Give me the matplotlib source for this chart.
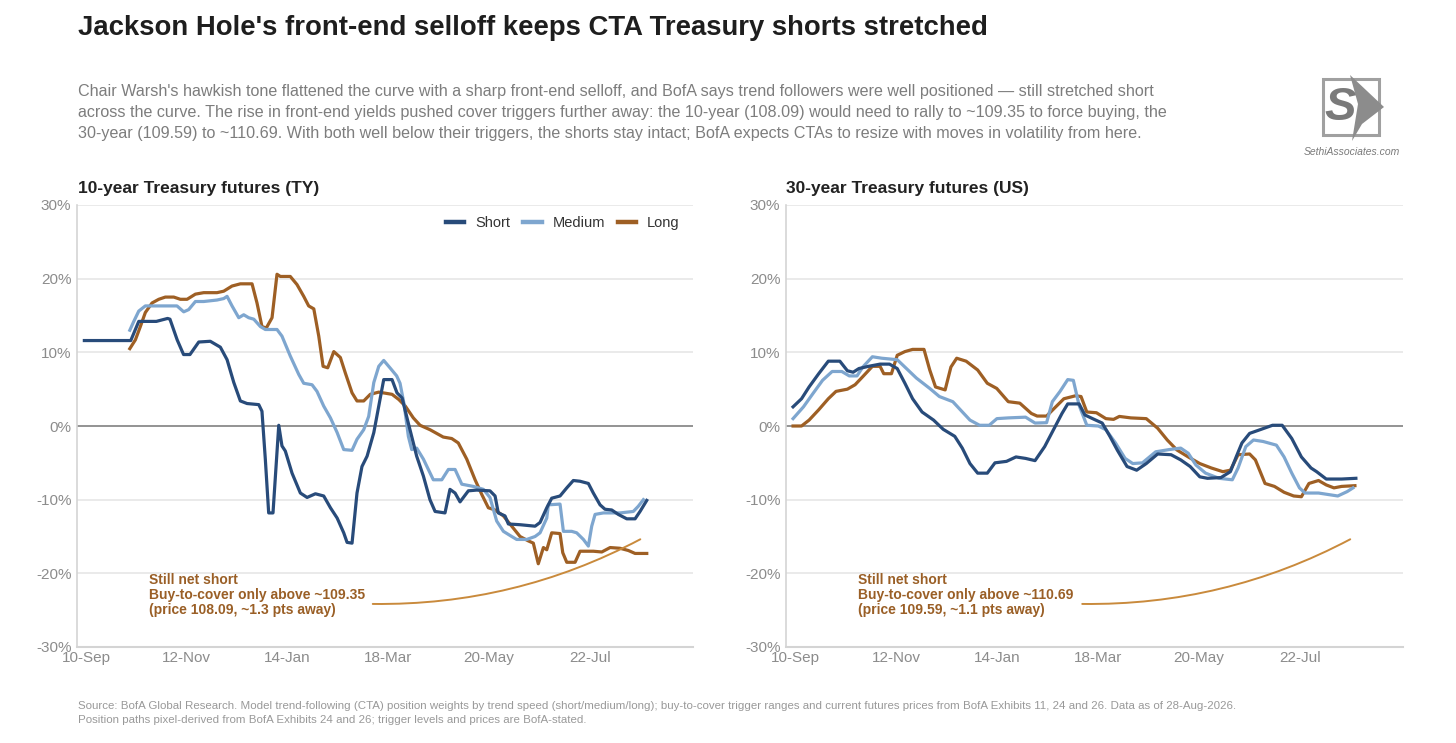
import numpy as np
import matplotlib.pyplot as plt
from matplotlib.patches import FancyArrowPatch, Polygon, Rectangle

plt.rcParams['font.family'] = ['Liberation Sans', 'DejaVu Sans']

# x = days since 10-Sep-2025, y = position weight (%)
tick_days = [0, 63, 126, 189, 252, 315]
tick_labels = ['10-Sep', '12-Nov', '14-Jan', '18-Mar', '20-May', '22-Jul']

# ---- 10-year (TY)
ty_short_x = [-1, 28, 33, 44, 51, 52.5, 57, 61, 65, 70.5, 77.7, 84, 88.2, 92.4, 96.5, 100.7, 108, 110,
              112.1, 114.2, 116.9, 120.5, 122.5, 124.6, 128.8, 134, 138.2, 143.4, 148.6, 152.8, 157,
              161.1, 163.2, 166.3, 169.4, 172.5, 175.7, 179.9, 183, 186.1, 191.3, 194.4, 197.6, 201,
              206.7, 210.9, 215, 218.2, 224.4, 227.5, 230.7, 233.8, 239, 244.2, 252.5, 255.7, 257.7,
              261.9, 264, 271.3, 280.7, 283.8, 288, 291.1, 296.3, 300.5, 304.6, 308.8, 314, 317.1,
              321.3, 324.4, 328.6, 332.7, 338, 343.2, 346.3, 350.5]
ty_short_y = [11.6, 11.6, 14.2, 14.2, 14.6, 14.5, 11.7, 9.7, 9.7, 11.4, 11.5, 10.7, 9.0, 5.9, 3.4, 3.05,
              2.9, 2.0, -4.5, -11.8, -11.8, 0.1, -2.7, -3.4, -6.4, -9.1, -9.7, -9.2, -9.5, -11.1,
              -12.5, -14.5, -15.8, -15.9, -9.1, -5.5, -4.1, -0.9, 2.7, 6.3, 6.3, 4.5, 3.8, 0.8, -4.1,
              -6.8, -10.0, -11.6, -11.8, -8.6, -9.1, -10.3, -8.8, -8.7, -8.8, -9.5, -11.8, -12.2,
              -13.3, -13.4, -13.6, -13.1, -11.1, -9.8, -9.5, -8.4, -7.4, -7.5, -7.8, -9.1, -10.7,
              -11.3, -11.4, -12.0, -12.6, -12.6, -11.6, -10.1]

ty_medium_x = [27.4, 29.9, 33, 37.1, 56.9, 61.1, 64.2, 68.4, 73.6, 81.9, 86.1, 88.2, 91.3, 95.5, 98.6,
               101.7, 104.9, 109, 112.1, 119.4, 122.5, 127.7, 133, 136.1, 141.3, 144.4, 148.6, 152.8,
               157, 161.1, 166.3, 169.4, 173.6, 176.7, 179.9, 183, 186.1, 190, 194.2, 196.3, 198.8,
               201.5, 203.6, 206.7, 210.9, 217.1, 222.4, 226.5, 230.7, 234.9, 242.1, 248.4, 252.5,
               256.7, 260.9, 266.1, 269.2, 275.5, 280.7, 283.8, 288, 289, 296.3, 298.4, 303.6, 306.7,
               310.9, 314, 316.1, 318.2, 323.4, 333.8, 342.1, 345.2, 348.4]
ty_medium_y = [13.0, 14.2, 15.6, 16.3, 16.3, 15.5, 15.8, 16.9, 16.9, 17.1, 17.3, 17.6, 16.3, 14.7, 15.1,
               14.7, 14.5, 13.5, 13.1, 13.1, 12.2, 9.5, 7.0, 5.8, 5.6, 4.7, 2.7, 1.1, -0.9, -3.2, -3.3,
               -1.8, -0.5, 1.3, 5.9, 8.1, 8.9, 7.9, 6.8, 5.8, 3.0, -1.4, -3.2, -3.0, -4.5, -7.3, -7.3,
               -5.9, -5.9, -7.9, -8.2, -8.6, -9.7, -12.9, -14.3, -15.0, -15.4, -15.4, -15.0, -14.5,
               -12.5, -10.7, -10.6, -14.3, -14.3, -14.5, -15.4, -16.3, -13.6, -12.0, -11.8, -11.8,
               -11.6, -10.9, -10.0]

ty_long_x = [27.4, 30.9, 34, 37.1, 41.3, 45.5, 49.6, 54.9, 59, 63.2, 68.4, 73.6, 81.9, 86.1, 91.3, 96.5,
             103.8, 106.9, 110, 112.7, 116.3, 119.4, 121.5, 127.7, 131.9, 136.1, 139.2, 142.4, 145.5,
             148.2, 151.1, 154.9, 159, 162.1, 166.3, 169.4, 173.6, 177.7, 183, 191.3, 195.5, 199.6,
             204.6, 208.8, 215, 223.3, 228.6, 232.7, 238, 243.2, 247.4, 251.5, 255.7, 260.9, 266.1,
             271.3, 276.5, 279.6, 282.7, 285.9, 288, 291.1, 296.3, 298, 300.5, 305.7, 308.8, 317.1,
             322.4, 327.6, 333.8, 339, 343.2, 350.5]
ty_long_y = [10.5, 11.7, 13.5, 15.4, 16.7, 17.2, 17.5, 17.5, 17.2, 17.2, 17.9, 18.1, 18.1, 18.3, 19.0,
             19.3, 19.3, 16.7, 13.5, 13.3, 14.7, 20.6, 20.3, 20.3, 19.2, 17.6, 16.3, 15.9, 12.2, 8.1,
             7.9, 10.1, 9.3, 7.2, 4.5, 3.4, 3.4, 4.3, 4.6, 4.3, 3.6, 2.7, 1.1, 0.1, -0.5, -1.5, -1.7,
             -2.3, -4.5, -7.3, -9.3, -11.1, -11.4, -12.2, -13.6, -15.0, -15.6, -15.9, -18.7, -16.5,
             -16.8, -14.5, -14.6, -17.2, -18.5, -18.5, -17.0, -17.0, -17.1, -16.5, -16.6, -16.9,
             -17.3, -17.3]

# ---- 30-year (US)
us_short_x = [-1.2, 4.1, 8.8, 14.8, 20.8, 28, 32.7, 36.3, 39.9, 45.9, 53.1, 59, 63.8, 68.6, 73.4, 79.3,
              86.5, 92.5, 99.7, 104.4, 109.2, 114, 120, 124.8, 132, 137.9, 143.9, 149.8, 155.8, 161.8,
              166.6, 170.2, 177.3, 180.9, 185.7, 191.7, 196.5, 201.2, 207.2, 213.2, 219.2, 226.3,
              234.7, 240.7, 246.6, 252.6, 257.4, 265.8, 271.7, 275.3, 278.9, 283.7, 290.9, 298, 304,
              310, 316, 322, 325.5, 331.5, 341.1, 350]
us_short_y = [2.6, 3.7, 5.3, 7.1, 8.8, 8.8, 7.5, 7.3, 7.8, 8.1, 8.4, 8.4, 7.8, 5.8, 3.7, 1.9, 0.8, -0.45,
              -1.4, -3.0, -5.1, -6.4, -6.4, -5.0, -4.8, -4.2, -4.4, -4.7, -2.8, -0.3, 1.7, 3.0, 3.0,
              1.5, 1.0, 0.4, -1.4, -3.3, -5.5, -6.0, -5.1, -3.8, -3.9, -4.6, -5.5, -6.9, -7.1, -7.0,
              -6.2, -4.2, -2.3, -1.0, -0.45, 0.1, 0.1, -1.7, -4.2, -5.7, -6.2, -7.2, -7.2, -7.1]

us_medium_x = [-1.2, 5.3, 11.2, 17.2, 23.2, 29.2, 33.9, 38.7, 42.3, 48.3, 54.2, 63.8, 68.6, 75.8, 84.1,
               90.1, 98.5, 103.2, 109.2, 115.2, 121.2, 126, 133.1, 143.9, 149.8, 157, 160.6, 165.4,
               170.2, 173.7, 177.3, 182.1, 189.3, 194, 200, 206, 210.8, 216.8, 225.1, 233.5, 240.7,
               245.4, 250.2, 256.2, 264.6, 272.9, 276.5, 281.3, 286.1, 292.1, 300.4, 305.2, 310,
               314.8, 318.3, 326.7, 338.7, 344.6, 348.2]
us_medium_y = [1.0, 2.6, 4.4, 6.2, 7.4, 7.4, 6.8, 6.8, 8.0, 9.4, 9.2, 9.0, 8.0, 6.5, 5.1, 4.0, 3.3, 2.2,
               0.8, 0.1, 0.1, 1.0, 1.1, 1.2, 0.4, 0.45, 3.3, 4.7, 6.3, 6.2, 2.8, 0.1, 0.0, -0.5, -2.3,
               -4.4, -5.1, -5.0, -3.5, -3.2, -3.0, -3.7, -5.3, -6.4, -7.1, -7.3, -5.7, -2.8, -1.9,
               -2.1, -2.6, -4.2, -6.4, -8.4, -9.1, -9.1, -9.5, -8.9, -8.4]

us_long_x = [-1.2, 4.1, 8.8, 14.8, 20.8, 25.6, 32.7, 37.5, 42.3, 48.3, 53.1, 55.4, 60.2, 63.8, 68.6,
             73.4, 80.5, 84.1, 87.7, 93.7, 97.3, 100.9, 106.8, 114, 120, 125.9, 133.1, 140.3, 147.5,
             151.1, 157, 161.8, 167.8, 175, 178.5, 182.1, 188.1, 194, 198.8, 202.4, 209.6, 219.2,
             226.3, 232.3, 238.3, 245.4, 252.6, 259.8, 267, 271.7, 276.5, 283.7, 287.3, 293.3, 299.2,
             305.2, 311.2, 316, 320.7, 326.7, 331.5, 336.3, 341.1, 349.4]
us_long_y = [0.0, 0.0, 0.8, 2.2, 3.7, 4.7, 5.0, 5.6, 6.7, 8.1, 8.1, 7.1, 7.1, 9.6, 10.1, 10.4, 10.4, 7.6,
             5.3, 4.9, 8.0, 9.2, 8.8, 7.6, 5.8, 5.1, 3.3, 3.1, 1.7, 1.35, 1.35, 2.4, 3.7, 4.1, 4.0,
             1.9, 1.8, 1.0, 0.9, 1.3, 1.1, 1.0, -0.3, -1.9, -3.25, -4.2, -5.1, -5.7, -6.2, -6.0,
             -3.9, -3.8, -4.6, -7.8, -8.2, -9.0, -9.5, -9.6, -7.8, -7.4, -8.0, -8.4, -8.2, -8.1]

# trigger curve ends (day, %) and annotation texts
curve_start = (177.5, -24.15)
curve_end = (348, -15.2)
ty_note = 'Still net short\nBuy-to-cover only above ~109.35\n(price 108.09, ~1.3 pts away)'
us_note = 'Still net short\nBuy-to-cover only above ~110.69\n(price 109.59, ~1.1 pts away)'

c_short = '#284b7a'
c_medium = '#7ea6cf'
c_long = '#9e5f24'
c_note = '#9a5f26'
c_curve = '#c98a3c'

W, H = 1456, 743
fig = plt.figure(figsize=(W / 100, H / 100), dpi=100)


def fx(px):
    return px / W


def fy(py):
    return 1 - py / H


def style_axes(ax):
    ax.set_xlim(-5.6, 379.4)
    ax.set_ylim(-30, 30)
    ax.set_yticks([-30, -20, -10, 0, 10, 20, 30])
    ax.set_yticklabels(['%d%%' % v for v in [-30, -20, -10, 0, 10, 20, 30]])
    ax.set_xticks(tick_days)
    ax.set_xticklabels(tick_labels)
    for v in [-20, -10, 10, 20, 30]:
        ax.axhline(v, color='#e6e6e6', lw=1.2, zorder=0)
    ax.axhline(0, color='#8a8a8a', lw=1.3, zorder=1)
    for s in ['top', 'right']:
        ax.spines[s].set_visible(False)
    ax.spines['left'].set_color('#d4d4d4')
    ax.spines['bottom'].set_color('#d4d4d4')
    ax.spines['left'].set_linewidth(1.2)
    ax.spines['bottom'].set_linewidth(1.5)
    ax.tick_params(length=0, labelsize=11, labelcolor='#8c8c8c')
    ax.tick_params(axis='y', pad=4)
    ax.tick_params(axis='x', pad=3)


ax1 = fig.add_axes([fx(77), fy(647), fx(693) - fx(77), fy(205) - fy(647)])
ax2 = fig.add_axes([fx(786), fy(647), fx(1403) - fx(786), fy(205) - fy(647)])

for ax, sx, sy, mx, my, lx, ly, note in [
        (ax1, ty_short_x, ty_short_y, ty_medium_x, ty_medium_y, ty_long_x, ty_long_y, ty_note),
        (ax2, us_short_x, us_short_y, us_medium_x, us_medium_y, us_long_x, us_long_y, us_note)]:
    style_axes(ax)
    ax.plot(lx, ly, color=c_long, lw=2.3, label='Long', zorder=3)
    ax.plot(mx, my, color=c_medium, lw=2.3, label='Medium', zorder=4)
    ax.plot(sx, sy, color=c_short, lw=2.3, label='Short', zorder=5)
    arc = FancyArrowPatch(curve_start, curve_end, arrowstyle='-', color=c_curve, lw=1.4,
                          connectionstyle='arc3,rad=0.13', zorder=6)
    ax.add_patch(arc)
    ax.text(39.4, -20.0, note, color=c_note, fontsize=10, fontweight='bold', va='top', ha='left',
            linespacing=1.08)

h, l = ax1.get_legend_handles_labels()
order = [2, 1, 0]
leg = ax1.legend([h[i] for i in order], [l[i] for i in order], loc='upper right', ncol=3, frameon=False,
                 fontsize=10.5, handlelength=1.25, handletextpad=0.75, columnspacing=0.9,
                 bbox_to_anchor=(1.0, 1.005))
for t in leg.get_texts():
    t.set_color('#333333')
for ln in leg.get_lines():
    ln.set_linewidth(3.2)

# titles
fig.text(fx(78), fy(28), "Jackson Hole's front-end selloff keeps CTA Treasury shorts stretched",
         fontsize=19.8, fontweight='bold', color='#1e1e1e', va='center', ha='left')
subtitle = ("Chair Warsh's hawkish tone flattened the curve with a sharp front-end selloff, and BofA says "
            "trend followers were well positioned \u2014 still stretched short\n"
            "across the curve. The rise in front-end yields pushed cover triggers further away: the 10-year "
            "(108.09) would need to rally to ~109.35 to force buying, the\n"
            "30-year (109.59) to ~110.69. With both well below their triggers, the shorts stay intact; BofA "
            "expects CTAs to resize with moves in volatility from here.")
fig.text(fx(78), fy(84), subtitle, fontsize=11.6, color='#7d7d7d', va='top', ha='left', linespacing=1.52)
fig.text(fx(78), fy(188), '10-year Treasury futures (TY)', fontsize=12.5, fontweight='bold',
         color='#222222', va='center', ha='left')
fig.text(fx(786), fy(188), '30-year Treasury futures (US)', fontsize=12.5, fontweight='bold',
         color='#222222', va='center', ha='left')

footer = ("Source: BofA Global Research. Model trend-following (CTA) position weights by trend speed "
          "(short/medium/long); buy-to-cover trigger ranges and current futures prices from BofA Exhibits "
          "11, 24 and 26. Data as of 28-Aug-2026.\n"
          "Position paths pixel-derived from BofA Exhibits 24 and 26; trigger levels and prices are BofA-stated.")
fig.text(fx(78), fy(701), footer, fontsize=8.27, color='#999999', va='top', ha='left', linespacing=1.52)

# logo
fig.patches.append(Rectangle((fx(1323), fy(135)), fx(1379) - fx(1323), fy(79) - fy(135),
                             transform=fig.transFigure, fill=False, ec='#a0a0a0', lw=2.2))
fig.patches.append(Polygon([(fx(1350), fy(75)), (fx(1384), fy(107)), (fx(1362), fy(124)), (fx(1352), fy(141)),
                            (fx(1358), fy(104))],
                           closed=True, transform=fig.transFigure, fc='#8c8c8c', ec='none'))
fig.text(fx(1340), fy(108), 'S', fontsize=34, fontweight='bold', fontstyle='italic', color='#7a7a7a',
         ha='center', va='center')
fig.text(fx(1352), fy(152), 'SethiAssociates.com', fontsize=7.5, fontstyle='italic', color='#7a7a7a',
         ha='center', va='center')

fig.savefig('out.png', dpi=100, facecolor='white')
